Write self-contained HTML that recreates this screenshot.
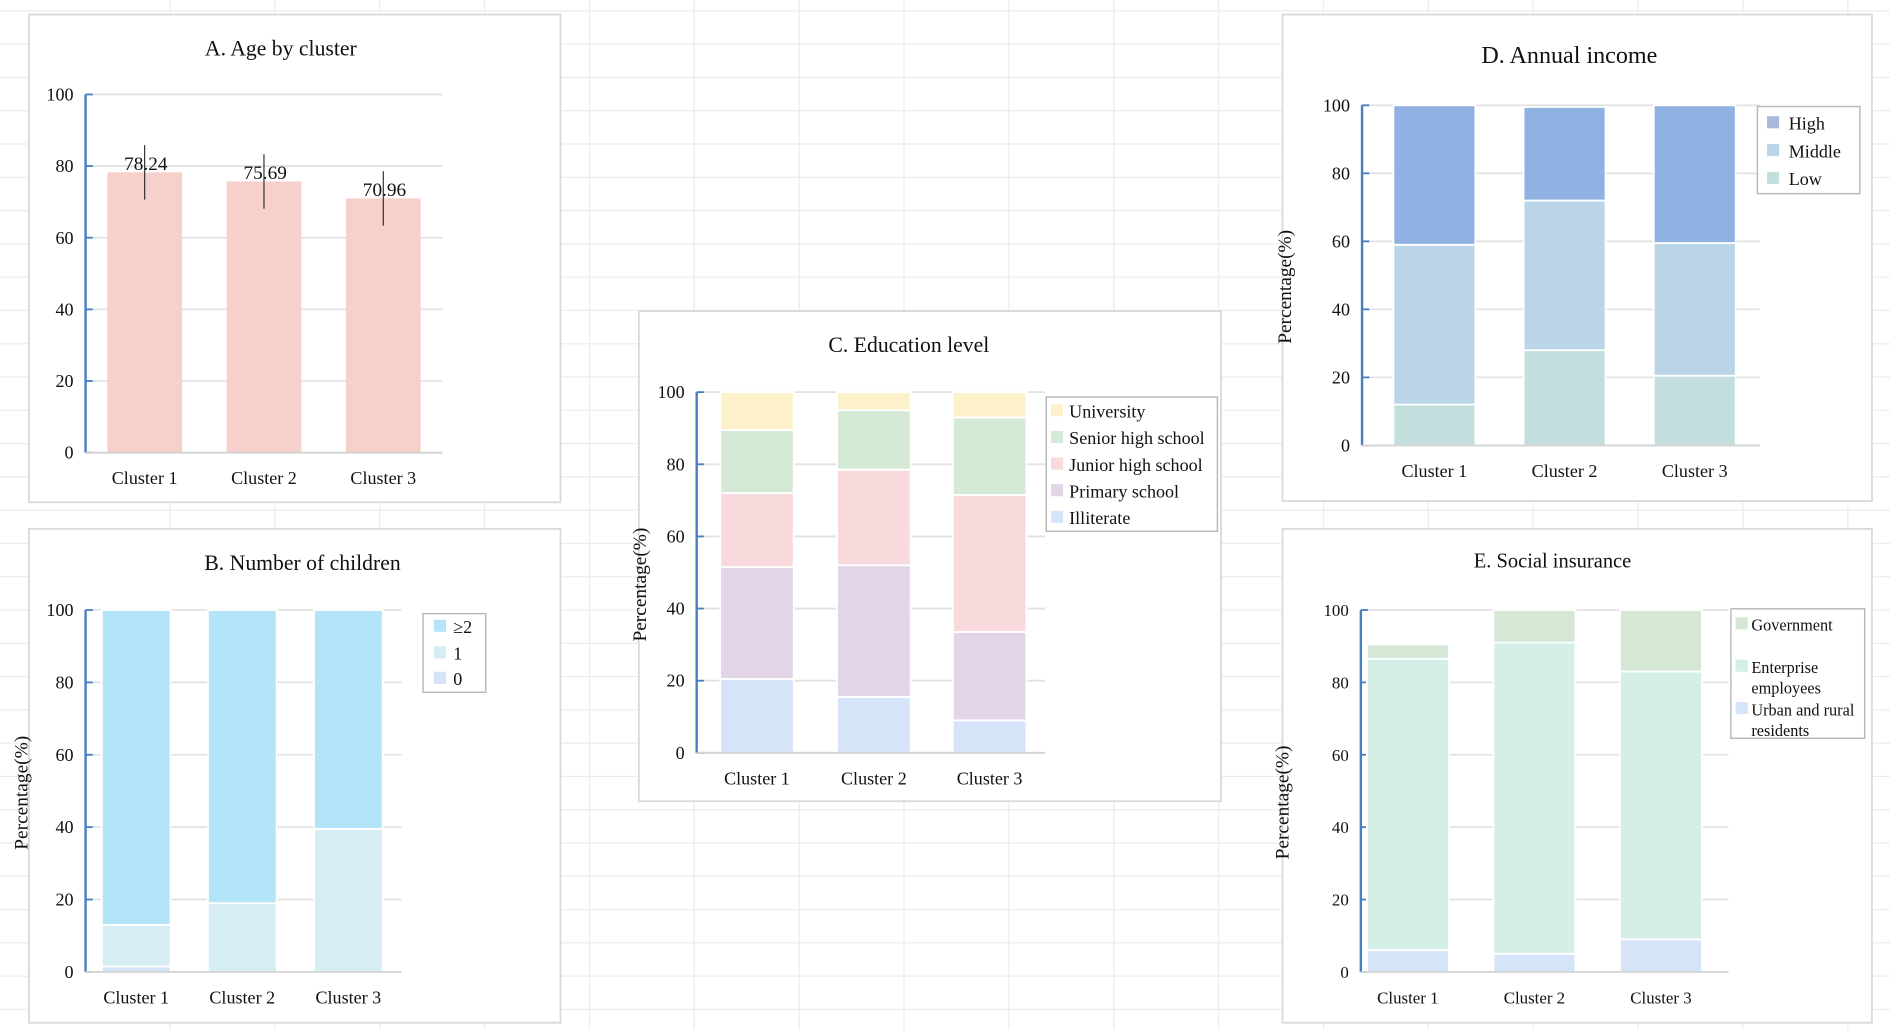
<!DOCTYPE html>
<html><head><meta charset="utf-8"><style>
html,body{margin:0;padding:0;background:#fff;width:1890px;height:1030px;overflow:hidden}
svg{display:block;font-family:"Liberation Serif",serif}
</style></head><body>
<svg id="root" width="1890" height="1030" viewBox="0 0 1568 851" preserveAspectRatio="none" xmlns="http://www.w3.org/2000/svg">
<g id="grid"></g>
</svg>
<script>
const categories = ["Cluster 1","Cluster 2","Cluster 3"];
const yTicks = [0,20,40,60,80,100];
// A
const ageMeans = [78.24,75.69,70.96];
const ageSD = [7.6,7.6,7.6];
const ageLabels = ["78.24","75.69","70.96"];
// B (bottom to top)
const childSeries = ["0","1","≥2"];
const child0 = [1.5,0,0];
const child1 = [11.5,19,39.5];
const child2 = [87,81,60.5];
// C (bottom to top)
const eduSeries = ["Illiterate","Primary school","Junior high school","Senior high school","University"];
const eduIlliterate = [20.5,15.5,9];
const eduPrimary = [31,36.5,24.5];
const eduJunior = [20.5,26.5,38];
const eduSenior = [17.5,16.5,21.5];
const eduUniversity = [10.5,5,7];
// D
const incSeries = ["Low","Middle","High"];
const incLow = [12,28,20.5];
const incMiddle = [47,44,39];
const incHigh = [41,27.5,40.5];
// E
const insSeries = ["Urban and rural residents","Enterprise employees","Government"];
const insUrban = [6,5,9];
const insEnterprise = [80.5,86,74];
const insGov = [4,9,17];

const NS="http://www.w3.org/2000/svg";
const root=document.getElementById('root');
function mk(tag,attrs,parent){const e=document.createElementNS(NS,tag);for(const k in attrs)e.setAttribute(k,attrs[k]);(parent||root).appendChild(e);return e;}

// sheet grid
const grid=document.getElementById('grid');
for(let x=141;x<1568;x+=87){const l=mk('line',{x1:x,y1:0,x2:x,y2:851,stroke:'#ececec','stroke-width':1},grid);

}
for(let y=9;y<851;y+=27.5){const l=mk('line',{x1:0,y1:y,x2:1568,y2:y,stroke:'#ececec','stroke-width':1},grid);

}

function panel(cfg){
  const g=mk('g',{});
  
  
  const box=mk('rect',{x:cfg.box[0],y:cfg.box[1],width:cfg.box[2]-cfg.box[0],height:cfg.box[3]-cfg.box[1],fill:'#fff',stroke:'#d9d9d9','stroke-width':1.5},g);
  
  
  const t=mk('text',{x:cfg.title[0],y:cfg.title[1],'text-anchor':'middle','font-size':cfg.titleSize,fill:'#111'},g);
  t.textContent=cfg.titleText;
  
  
  const yS=v=>cfg.y0-(cfg.y0-cfg.y100)*v/100;
  yTicks.forEach(v=>{
    const gl=mk('line',{x1:cfg.ax,x2:cfg.axEnd,y1:yS(v),y2:yS(v),stroke:'#e2e2e2','stroke-width':1.5},g);
    
    
    const tk=mk('line',{x1:cfg.ax,x2:cfg.ax+6,y1:yS(v),y2:yS(v),stroke:'#4a7fbf','stroke-width':1.5},g);
    
    
    const tl=mk('text',{x:cfg.ax-10,y:yS(v)+5,'text-anchor':'end','font-size':cfg.tickSize,fill:'#111'},g);
    tl.textContent=v;
    
    
  });
  const barsG=mk('g',{},g);
  
  
  categories.forEach((c,i)=>{
    const cx=cfg.cx[i];
    let acc=0;
    cfg.series.forEach((s,j)=>{
      const v=s[i];
      if(v>0){
        const r=mk('rect',{x:cx-cfg.bw/2,y:yS(acc+v),width:cfg.bw,height:yS(acc)-yS(acc+v),fill:cfg.colors[j],stroke:'#fff','stroke-width':cfg.stacked?1.5:0},barsG);
        
        
      }
      acc+=v;
    });
    const xl=mk('text',{x:cx,y:cfg.y0+26,'text-anchor':'middle','font-size':cfg.catSize,fill:'#111'},g);
    xl.textContent=c;
    
    
  });
  const ax=mk('line',{x1:cfg.ax,x2:cfg.ax,y1:cfg.y100,y2:cfg.y0,stroke:'#4a7fbf','stroke-width':2},g);
  
  
  const xa=mk('line',{x1:cfg.ax,x2:cfg.axEnd,y1:cfg.y0,y2:cfg.y0,stroke:'#d4d4d4','stroke-width':1.5},g);
  
  
  if(cfg.ylab){
    const yl=mk('text',{x:0,y:0,transform:`translate(${cfg.ylab[0]},${cfg.ylab[1]}) rotate(-90)`,'text-anchor':'middle','font-size':16,fill:'#111'},g);
    yl.textContent='Percentage(%)';
    
    
  }
  if(cfg.legend){
    const L=cfg.legend;
    const lg=mk('g',{},g);
    
    
    const lb=mk('rect',{x:L.box[0],y:L.box[1],width:L.box[2]-L.box[0],height:L.box[3]-L.box[1],fill:'#fff',stroke:'#b8b8b8','stroke-width':1.2},lg);
    
    
    L.items.forEach(it=>{
      const sw=mk('rect',{x:L.sx,y:it.y-6,width:10,height:10,fill:it.color},lg);
      
      
      it.lines.forEach((ln,k)=>{
        const tx=mk('text',{x:L.tx,y:it.y+5+k*17,'font-size':L.size,fill:'#111'},lg);
        tx.textContent=ln;
        
        
      });
    });
  }
  return {g,yS};
}

// A
const A=panel({name:'panel-a-age',box:[24,12,465,415],title:[233,46],titleText:'A. Age by cluster',titleSize:18,
  y0:374,y100:78,ax:71,axEnd:367,cx:[120,219,318],bw:62,series:[ageMeans],seriesNames:['age'],colors:['#f7cfcb'],stacked:false,tickSize:15,catSize:15});
categories.forEach((c,i)=>{
  const cx=[120,219,318][i];
  const lb=mk('text',{x:cx+1,y:A.yS(ageMeans[i])-2,'text-anchor':'middle','font-size':16,fill:'#111'},A.g);
  lb.textContent=ageLabels[i];
  
  
  const eb=mk('line',{x1:cx,x2:cx,y1:A.yS(ageMeans[i]+ageSD[i]),y2:A.yS(ageMeans[i]-ageSD[i]),stroke:'#333','stroke-width':1},A.g);
  
  
});

// B
panel({name:'panel-b-children',box:[24,437,465,845],title:[251,471],titleText:'B. Number of children',titleSize:18,
  y0:803,y100:504,ax:71,axEnd:333,cx:[113,201,289],bw:57,series:[child0,child1,child2],seriesNames:childSeries,
  colors:['#d5e3f8','#d6edf3','#b3e4f8'],stacked:true,tickSize:15,catSize:15,ylab:[23,655],
  legend:{box:[351,507,403,572],sx:360,tx:376,size:15,items:[{y:518,color:'#b3e4f8',lines:['≥2']},{y:540,color:'#d6edf3',lines:['1']},{y:561,color:'#d5e3f8',lines:['0']}]}});

// C
panel({name:'panel-c-education',box:[530,257,1013,662],title:[754,291],titleText:'C. Education level',titleSize:18,
  y0:622,y100:324,ax:578,axEnd:867,cx:[628,725,821],bw:61,series:[eduIlliterate,eduPrimary,eduJunior,eduSenior,eduUniversity],seriesNames:eduSeries,
  colors:['#d6e4f9','#e2d5e8','#f8dadd','#d5e9d7','#fdf1cc'],stacked:true,tickSize:15,catSize:15,ylab:[536,483],
  legend:{box:[868,328,1010,439],sx:872,tx:887,size:15,items:[
   {y:340,color:'#fdf1cc',lines:['University']},{y:362,color:'#d5e9d7',lines:['Senior high school']},
   {y:384,color:'#f8dadd',lines:['Junior high school']},{y:406,color:'#e2d5e8',lines:['Primary school']},{y:428,color:'#d6e4f9',lines:['Illiterate']}]}});

// D
panel({name:'panel-d-income',box:[1064,12,1553,414],title:[1302,52],titleText:'D. Annual income',titleSize:20,
  y0:368,y100:87,ax:1130,axEnd:1460,cx:[1190,1298,1406],bw:68,series:[incLow,incMiddle,incHigh],seriesNames:incSeries,
  colors:['#c2dfde','#bad5e8','#8fb2e2'],stacked:true,tickSize:15,catSize:15,ylab:[1071,237],
  legend:{box:[1458,88,1543,160],sx:1466,tx:1484,size:15,items:[{y:102,color:'#a9b9dc',lines:['High']},{y:125,color:'#bad5e8',lines:['Middle']},{y:148,color:'#c2dfde',lines:['Low']}]}});

// E
panel({name:'panel-e-insurance',box:[1064,437,1553,845],title:[1288,469],titleText:'E. Social insurance',titleSize:17,
  y0:803,y100:504,ax:1129,axEnd:1434,cx:[1168,1273,1378],bw:68,series:[insUrban,insEnterprise,insGov],seriesNames:insSeries,
  colors:['#d6e4f9','#d4efe7','#d5e8d6'],stacked:true,tickSize:14,catSize:14,ylab:[1069,663],
  legend:{box:[1436,503,1547,610],sx:1440,tx:1453,size:13.5,items:[
   {y:516,color:'#d5e8d6',lines:['Government']},{y:551,color:'#d4efe7',lines:['Enterprise','employees']},{y:586,color:'#d6e4f9',lines:['Urban and rural','residents']}]}});
</script>
</body></html>
